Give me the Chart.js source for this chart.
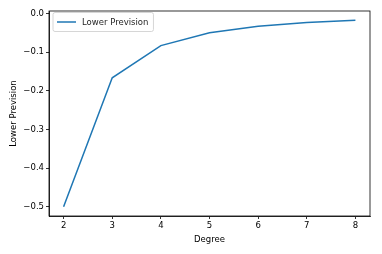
<!DOCTYPE html>
<html>
<head>
<meta charset="utf-8">
<script src="https://cdn.jsdelivr.net/npm/chart.js@4.4.0/dist/chart.umd.min.js"></script>
<style>
  html, body { margin: 0; padding: 0; background: #fff; }
  #wrap { width: 382px; height: 254px; }
</style>
</head>
<body>
<div id="wrap"><canvas id="grafico" width="382" height="254"></canvas></div>
<script>
const degrees = [2, 3, 4, 5, 6, 7, 8];
const lowerPrevision = [-0.5, -0.1667, -0.0833, -0.05, -0.0333, -0.0238, -0.0179];
const xTicks = [2, 3, 4, 5, 6, 7, 8];
const yTicks = [-0.5, -0.4, -0.3, -0.2, -0.1, 0.0];
const seriesLabel = 'Lower Prevision';

const fonte = { family: 'DejaVu Sans', size: 8.5 };
const minus = v => (v < 0 ? '\u2212' : '') + Math.abs(v).toFixed(1);

// moldura superior/direita + legenda estilo matplotlib
const molduraPlugin = {
    id: 'moldura',
    afterDraw(chart) {
        const { ctx, chartArea: a } = chart;
        ctx.save();
        ctx.strokeStyle = '#000';
        ctx.lineWidth = 0.8;
        ctx.strokeRect(a.left, a.top, a.right - a.left, a.bottom - a.top);

        // legenda
        const ds = chart.data.datasets[0];
        ctx.font = `${fonte.size}px ${fonte.family}`;
        const w = ctx.measureText(ds.label).width;
        const x0 = a.left + 4, y0 = a.top + 1.5;
        const bw = w + 34, bh = 19;
        ctx.fillStyle = 'rgba(255,255,255,0.8)';
        ctx.strokeStyle = '#cccccc';
        ctx.lineWidth = 0.8;
        ctx.beginPath();
        ctx.roundRect(x0, y0, bw, bh, 2);
        ctx.fill();
        ctx.stroke();
        ctx.strokeStyle = ds.borderColor;
        ctx.lineWidth = ds.borderWidth;
        ctx.beginPath();
        ctx.moveTo(x0 + 4, y0 + bh / 2);
        ctx.lineTo(x0 + 23, y0 + bh / 2);
        ctx.stroke();
        ctx.fillStyle = '#262626';
        ctx.textBaseline = 'middle';
        ctx.fillText(ds.label, x0 + 29, y0 + bh / 2 + 0.5);
        ctx.restore();
    }
};

new Chart(document.getElementById('grafico'), {
    type: 'line',
    data: {
        datasets: [{
            label: seriesLabel,
            data: degrees.map((d, i) => ({ x: d, y: lowerPrevision[i] })),
            borderColor: '#1f77b4',
            borderWidth: 1.5,
            pointRadius: 0,
            tension: 0,
            fill: false
        }]
    },
    options: {
        responsive: false,
        animation: false,
        devicePixelRatio: 1,
        layout: { padding: { left: 0, top: 11, right: 12, bottom: 0 } },
        plugins: { legend: { display: false }, tooltip: { enabled: false } },
        scales: {
            x: {
                type: 'linear',
                min: 1.7,
                max: 8.3,
                afterBuildTicks: s => { s.ticks = xTicks.map(v => ({ value: v })); },
                afterFit: s => { s.height = 38; },
                grid: { drawOnChartArea: false, drawTicks: true, tickLength: 3, color: '#000', lineWidth: 0.8 },
                border: { display: true, color: '#000', width: 0.8 },
                ticks: { color: '#000', font: fonte, padding: 2, maxRotation: 0, callback: v => String(v) },
                title: { display: true, text: 'Degree', color: '#000', font: fonte, padding: { top: 1, bottom: 9 } }
            },
            y: {
                min: -0.5241,
                max: 0.0062,
                afterBuildTicks: s => { s.ticks = yTicks.map(v => ({ value: v })); },
                afterFit: s => { s.width = 49; },
                grid: { drawOnChartArea: false, drawTicks: true, tickLength: 3, color: '#000', lineWidth: 0.8 },
                border: { display: true, color: '#000', width: 0.8 },
                ticks: { color: '#000', font: fonte, padding: 2, callback: v => minus(v) },
                title: { display: true, text: 'Lower Prevision', color: '#000', font: fonte, padding: { top: 9, bottom: 4 } }
            }
        }
    },
    plugins: [molduraPlugin]
});
</script>
</body>
</html>
